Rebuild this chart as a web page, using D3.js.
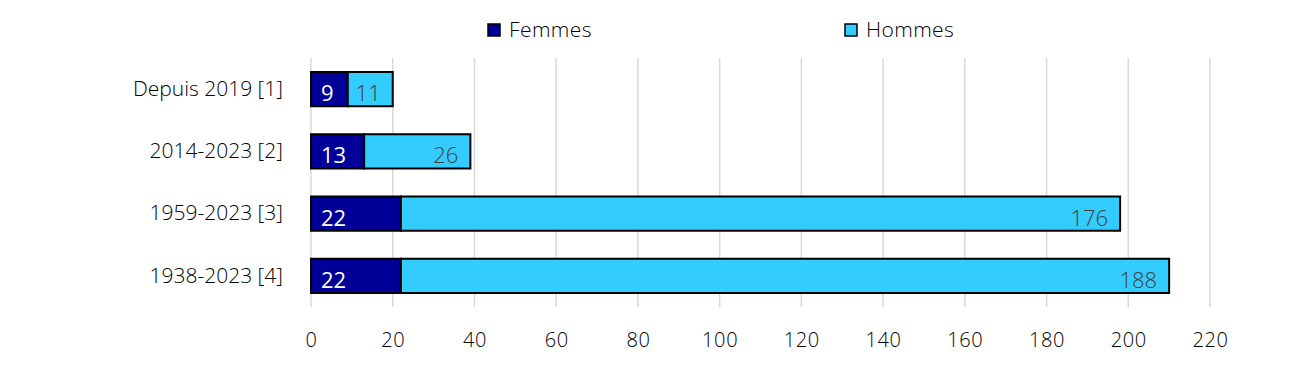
<!DOCTYPE html>
<html>
<head>
<meta charset="utf-8">
<script src="https://cdn.jsdelivr.net/npm/d3@7"></script>
<style>
  html, body { margin: 0; padding: 0; background: #fff; }
  svg text { font-family: "Open Sans", "Lato", sans-serif; font-weight: 300; }
</style>
</head>
<body>
<svg id="chart" width="1296" height="369"></svg>
<script>
const categories = ["Depuis 2019 [1]", "2014-2023 [2]", "1959-2023 [3]", "1938-2023 [4]"];
const seriesNames = ["Femmes", "Hommes"];
const femmes = [9, 13, 22, 22];
const hommes = [11, 26, 176, 188];
const xTicks = [0, 20, 40, 60, 80, 100, 120, 140, 160, 180, 200, 220];
const colors = ["#000099", "#33CCFF"];
const labelColors = ["#ffffff", "#404040"];

const svg = d3.select("#chart");
const x = d3.scaleLinear().domain([0, 220]).range([311, 1210]);
const y = d3.scaleBand().domain(categories).range([58, 307]).paddingInner(0.45).paddingOuter(0.225);

// gridlines
svg.append("g").selectAll("line").data(xTicks).join("line")
  .attr("x1", d => x(d)).attr("x2", d => x(d))
  .attr("y1", 58).attr("y2", 307)
  .attr("stroke", "#d9d9d9").attr("stroke-width", 1.5);

// x axis labels
const xAxis = d3.axisBottom(x).tickValues(xTicks).tickSize(0).tickPadding(0);
const gx = svg.append("g").attr("transform", "translate(0,330)").call(xAxis);
gx.select(".domain").remove();
gx.selectAll("text").attr("font-size", 20).attr("fill", "#000").attr("dy", "0.35em").attr("y", 10)
  .style("font-family", "'Open Sans', sans-serif").style("font-weight", 300)
  .style("letter-spacing", "0.6px");

// y axis labels
const yAxis = d3.axisLeft(y).tickSize(0).tickPadding(0);
const gy = svg.append("g").attr("transform", "translate(283,0)").call(yAxis);
gy.select(".domain").remove();
gy.selectAll("text").attr("font-size", 21).attr("fill", "#000")
  .style("font-family", "'Open Sans', sans-serif").style("font-weight", 300);

// stacked data
const rows = categories.map((c, i) => ({cat: c, Femmes: femmes[i], Hommes: hommes[i]}));
const stack = d3.stack().keys(seriesNames)(rows);

stack.forEach((layer, si) => {
  const g = svg.append("g");
  g.selectAll("rect").data(layer).join("rect")
    .attr("x", d => x(d[0]))
    .attr("y", d => y(d.data.cat))
    .attr("width", d => x(d[1]) - x(d[0]))
    .attr("height", y.bandwidth())
    .attr("fill", colors[si])
    .attr("stroke", "#000").attr("stroke-width", 2);
  g.selectAll("text").data(layer).join("text")
    .attr("x", d => si === 0 ? x(d[0]) + 10 : x(d[1]) - 12)
    .attr("y", d => y(d.data.cat) + y.bandwidth() - 5)
    .attr("text-anchor", si === 0 ? "start" : "end")
    .attr("font-size", 22)
    .attr("fill", labelColors[si])
    .style("font-weight", si === 0 ? 400 : 300)
    .text(d => d[1] - d[0]);
});

// legend
const legendX = [488, 845];
const lg = svg.append("g");
seriesNames.forEach((s, i) => {
  lg.append("rect").attr("x", legendX[i]).attr("y", 24).attr("width", 12).attr("height", 12)
    .attr("fill", colors[i]).attr("stroke", "#000").attr("stroke-width", 1.5);
  lg.append("text").attr("x", legendX[i] + 21).attr("y", 30).attr("dy", "0.35em")
    .attr("font-size", 21).attr("fill", "#000").style("letter-spacing", "0.4px").text(s);
});
</script>
</body>
</html>
